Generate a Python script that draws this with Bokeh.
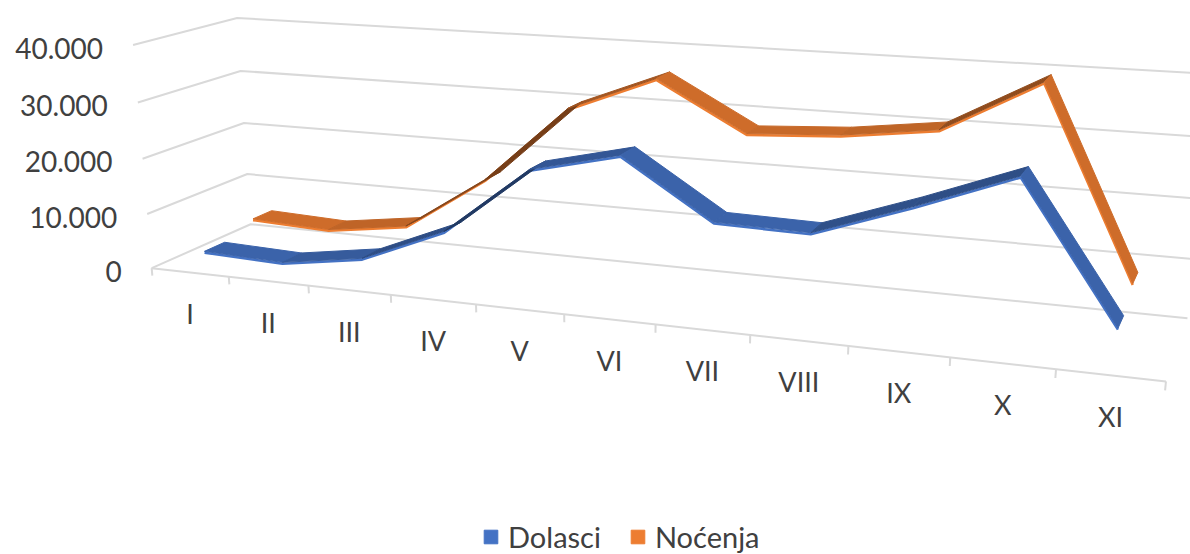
import numpy as np
from bokeh.plotting import figure
from bokeh.models import Range1d, Legend, LegendItem
from bokeh.embed import file_html
from bokeh.resources import INLINE
from bokeh.core.properties import value

categories = ["I", "II", "III", "IV", "V", "VI", "VII", "VIII", "IX", "X", "XI"]
dolasci = [2600, 2100, 4400, 10700, 22700, 26300, 16600, 16300, 21900, 28000, 5900]
nocenja = [4600, 4000, 6100, 16000, 29800, 35900, 27700, 28600, 30600, 39300, 8300]
value_ticks = [0, 10000, 20000, 30000, 40000]
value_labels = ["0", "10.000", "20.000", "30.000", "40.000"]

# Camera calibration of the 3-D box: (category edge, value/10000, depth, screen x, screen y)
cal = [(0,0,0,152,268),(1,0,0,228,276.5),(2,0,0,308,285.4),(3,0,0,390,294.5),(4,0,0,476,304),(5,0,0,564,314),
(6,0,0,655,324),(7,0,0,750,334.6),(8,0,0,848,345.5),(9,0,0,950,357),(10,0,0,1054,368.5),(11,0,0,1166,381),
(0,1,0,147,213),(0,2,0,141,158),(0,3,0,137,102),(0,4,0,133,44),
(0,0,1,250,223),(0,1,1,247,173),(0,2,1,243,123),(0,3,1,240,71),(0,4,1,237,18),
(11,0,1,1187,319),(11,1,1,1193,258.3),(11,2,1,1199,195.6),(11,3,1,1205,137.4),(11,4,1,1212,74)]
A = []; B = []
for u, v, d, x, y in cal:
    A.append([1,u,v,d,0,0,0,0,-x*u,-x*v,-x*d]); B.append(x)
    A.append([0,0,0,0,1,u,v,d,-y*u,-y*v,-y*d]); B.append(y)
c = np.linalg.lstsq(np.array(A, float), np.array(B, float), rcond=None)[0]

def proj(u, v, d):
    u = np.asarray(u, float); v = np.asarray(v, float); d = np.asarray(d, float)
    w = 1 + c[8]*u + c[9]*v + c[10]*d
    return (c[0]+c[1]*u+c[2]*v+c[3]*d)/w, (c[4]+c[5]*u+c[6]*v+c[7]*d)/w

def shade(hexcol, f):
    r, g, b = [int(hexcol[i:i+2], 16) for i in (1, 3, 5)]
    return "#%02x%02x%02x" % (int(r*f), int(g*f), int(b*f))

GRID = "#d9d9d9"
TXT = "#404040"
FONT = value("Lato")
p = figure(width=1190, height=554, x_range=Range1d(0, 1190), y_range=Range1d(554, 0),
           output_backend="svg", toolbar_location=None, min_border=0)
p.axis.visible = False; p.grid.visible = False; p.outline_line_color = None

for t in value_ticks:
    v = t/10000
    x, y = proj([0, 0, 11], [v, v, v], [0, 1, 1])
    p.line(x, y, line_color=GRID, line_width=2)
x, y = proj([0, 11], [0, 0], [0, 0])
p.line(x, y, line_color=GRID, line_width=2)
for i in range(12):
    x, y = proj([i, i], [0, -0.14], [0, 0])
    p.line(x, y, line_color=GRID, line_width=2)

us = np.arange(len(categories)) + 0.5
for vals, d0, col in [(nocenja, .65, "#ed7d31"), (dolasci, .15, "#4472c4")]:
    vv = np.array(vals)/10000
    fx, fy = proj(us, vv, d0*np.ones(11)); bx, by = proj(us, vv, (d0+.2)*np.ones(11))
    ex, ey = proj(us, vv-0.025, d0*np.ones(11))
    p.line(ex, ey, line_color=col, line_width=2.5)
    for i in range(10):
        dv = vv[i+1]-vv[i]
        f = float(np.clip(0.87 - 0.3*max(dv, 0), .5, .88))
        p.patch([fx[i],fx[i+1],bx[i+1],bx[i]], [fy[i],fy[i+1],by[i+1],by[i]], fill_color=shade(col, f), line_color=shade(col, f), line_width=1)

vx, vy = proj(np.zeros(5), np.array(value_ticks)/10000, np.zeros(5))
p.text(vx-30, vy+3, text=value_labels, text_font=FONT, text_font_size="28px", text_color=TXT, text_align="right", text_baseline="middle")
cx, cy = proj(us, np.zeros(11), np.zeros(11))
p.text(cx, cy+41, text=categories, text_font=FONT, text_font_size="27px", text_color=TXT, text_align="center", text_baseline="middle")

r1 = p.rect(x=[-100], y=[-100], width=1, height=1, color="#4472c4")
r2 = p.rect(x=[-100], y=[-100], width=1, height=1, color="#ed7d31")
leg = Legend(items=[LegendItem(label="Dolasci", renderers=[r1]), LegendItem(label="Noćenja", renderers=[r2])],
             orientation="horizontal", location=(482, 0), background_fill_alpha=0, border_line_color=None,
             glyph_width=17, glyph_height=17, label_standoff=9, spacing=28, padding=0, margin=0,
             label_text_font="Lato", label_text_font_size="29px", label_text_color=TXT)
p.add_layout(leg)
open("out.html", "w").write(file_html(p, INLINE))
